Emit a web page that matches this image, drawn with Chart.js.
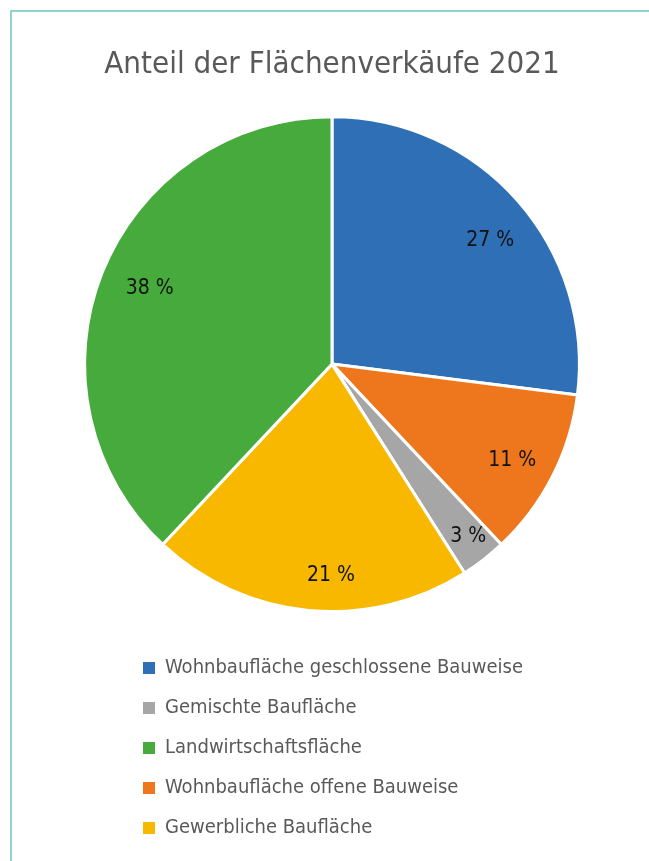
<!DOCTYPE html>
<html>
<head>
<meta charset="utf-8">
<script src="https://cdn.jsdelivr.net/npm/chart.js@4"></script>
<style>
    body { margin: 0; background: #fff; }
    #frame {
        position: absolute; left: 10px; top: 10px; width: 639px; height: 851px;
        border-left: 2px solid #8fd4cc; border-top: 2px solid #8fd4cc;
    }
    #wrap { position: absolute; left: 0; top: 0; width: 649px; height: 861px; }
    #legende {
        position: absolute; left: 143px; top: 646px; margin: 0; padding: 0;
        list-style: none; font-family: 'Liberation Sans Narrow', 'DejaVu Sans Condensed', sans-serif;
        font-size: 20px; color: #595959;
    }
    #legende li { height: 40px; line-height: 40px; white-space: nowrap; }
    #legende span.box { display: inline-block; width: 12px; height: 12px; margin-right: 10px; vertical-align: -1px; }
</style>
</head>
<body>
<div id="frame"></div>
<div id="wrap"><canvas id="grafico-flaechen" width="649" height="861"></canvas></div>
<ul id="legende"></ul>
<script>
// Reihenfolge im Kreis (im Uhrzeigersinn ab 12 Uhr)
const kategorien = ['Wohnbaufläche geschlossene Bauweise', 'Wohnbaufläche offene Bauweise', 'Gemischte Baufläche', 'Gewerbliche Baufläche', 'Landwirtschaftsfläche'];
const anteile = [27, 11, 3, 21, 38];
const farben = ['#2e6fb6', '#ee761c', '#a6a6a6', '#f9b800', '#46ab3c'];
// Reihenfolge der Legende
const legendenReihenfolge = ['Wohnbaufläche geschlossene Bauweise', 'Gemischte Baufläche', 'Landwirtschaftsfläche', 'Wohnbaufläche offene Bauweise', 'Gewerbliche Baufläche'];
// Lage der Beschriftung: Anteil am Radius und Verschiebung des Winkels (Grad)
const labelRadius = [0.81, 0.826, 0.888, 0.854, 0.797];
const labelWinkel = [3.5, 1.1, -0.5, -5.1, 0.8];

const schrift = "'Liberation Sans Narrow', 'DejaVu Sans Condensed', sans-serif";

const prozentLabels = {
    id: 'prozentLabels',
    afterDatasetsDraw(chart) {
        const ctx = chart.ctx;
        const meta = chart.getDatasetMeta(0);
        ctx.save();
        ctx.font = '21px ' + schrift;
        ctx.fillStyle = '#111';
        ctx.textAlign = 'center';
        ctx.textBaseline = 'middle';
        meta.data.forEach(function(arc, i) {
            const mitte = (arc.startAngle + arc.endAngle) / 2 + labelWinkel[i] * Math.PI / 180;
            const r = arc.outerRadius * labelRadius[i];
            ctx.fillText(anteile[i] + ' %', arc.x + Math.cos(mitte) * r, arc.y + Math.sin(mitte) * r);
        });
        ctx.restore();
    }
};

const ctxFlaechen = document.getElementById('grafico-flaechen');
new Chart(ctxFlaechen, {
    type: 'pie',
    data: {
        labels: kategorien,
        datasets: [{
            data: anteile,
            backgroundColor: farben,
            borderColor: '#ffffff',
            borderWidth: 3
        }]
    },
    options: {
        responsive: false,
        animation: false,
        layout: { padding: { left: 15, right: 0, top: 0, bottom: 248 } },
        plugins: {
            legend: { display: false },
            tooltip: { enabled: false },
            title: {
                display: true,
                text: 'Anteil der Flächenverkäufe 2021',
                color: '#595959',
                font: { family: schrift, size: 31, weight: 'normal' },
                padding: { top: 46, bottom: 32 }
            }
        }
    },
    plugins: [prozentLabels]
});

// Legende
const liste = document.getElementById('legende');
legendenReihenfolge.forEach(function(name) {
    const i = kategorien.indexOf(name);
    const li = document.createElement('li');
    const box = document.createElement('span');
    box.className = 'box';
    box.style.background = farben[i];
    li.appendChild(box);
    li.appendChild(document.createTextNode(name));
    liste.appendChild(li);
});
</script>
</body>
</html>
